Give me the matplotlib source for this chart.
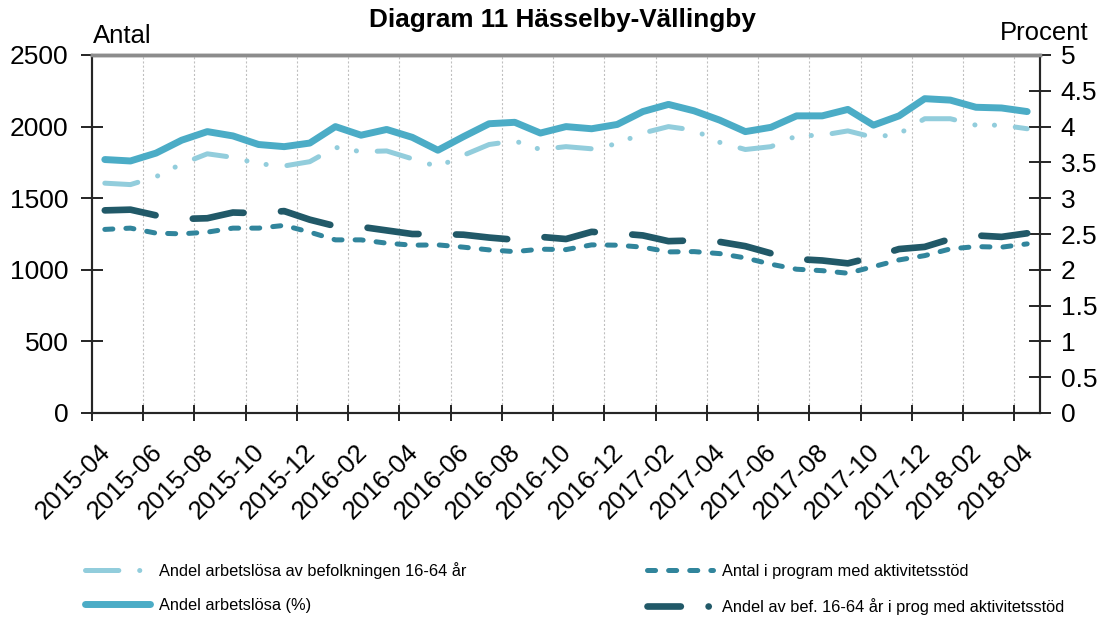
import numpy as np
import pandas as pd
import matplotlib
matplotlib.use("Agg")
import matplotlib.pyplot as plt
from matplotlib.lines import Line2D
from matplotlib.ticker import FixedLocator, NullFormatter, FixedFormatter

plt.rcParams['font.family'] = ['Liberation Sans', 'DejaVu Sans']
plt.rcParams['lines.scale_dashes'] = False

# =============================================================================
# DATA
# =============================================================================
months = list(pd.period_range('2015-04', '2018-04', freq='M').strftime('%Y-%m'))

# Andel arbetslösa av befolkningen 16-64 år (%), right axis
andel_bef = [3.21, 3.19, 3.30, 3.48, 3.62, 3.57, 3.48, 3.45, 3.51, 3.71, 3.65, 3.66,
             3.55, 3.44, 3.60, 3.75, 3.80, 3.68, 3.72, 3.69, 3.76, 3.91, 4.00, 3.95,
             3.78, 3.68, 3.72, 3.87, 3.88, 3.94, 3.85, 3.90, 4.11, 4.11, 4.02, 4.02, 3.97]

# Andel arbetslösa (%), right axis
andel_arb = [3.54, 3.52, 3.63, 3.81, 3.93, 3.87, 3.75, 3.72, 3.77, 4.00, 3.88, 3.96,
             3.85, 3.67, 3.86, 4.04, 4.06, 3.91, 4.00, 3.97, 4.03, 4.21, 4.31, 4.22,
             4.09, 3.93, 3.99, 4.15, 4.15, 4.24, 4.02, 4.15, 4.39, 4.37, 4.27, 4.26, 4.21]

# Antal i program med aktivitetsstöd, left axis
antal_prog = [1282, 1291, 1256, 1251, 1263, 1291, 1291, 1310, 1263, 1209, 1209, 1186,
              1172, 1174, 1158, 1139, 1127, 1144, 1141, 1174, 1172, 1158, 1125, 1127,
              1113, 1083, 1039, 1004, 994, 976, 1022, 1069, 1099, 1146, 1162, 1158, 1181]

# Andel av bef. 16-64 år i prog med aktivitetsstöd (%), right axis
andel_prog = [2.83, 2.84, 2.76, 2.71, 2.72, 2.80, 2.79, 2.82, 2.70, 2.61, 2.60, 2.55,
              2.50, 2.50, 2.49, 2.45, 2.42, 2.46, 2.43, 2.53, 2.51, 2.48, 2.40, 2.41,
              2.39, 2.33, 2.23, 2.15, 2.13, 2.09, 2.18, 2.29, 2.32, 2.43, 2.48, 2.46, 2.51]

left_ticks = [0, 500, 1000, 1500, 2000, 2500]
right_ticks = [0, 0.5, 1, 1.5, 2, 2.5, 3, 3.5, 4, 4.5, 5]
right_labels = ['0', '0.5', '1', '1.5', '2', '2.5', '3', '3.5', '4', '4.5', '5']

labels = ['Andel arbetslösa av befolkningen 16-64 år', 'Andel arbetslösa (%)',
          'Antal i program med aktivitetsstöd',
          'Andel av bef. 16-64 år i prog med aktivitetsstöd']

# =============================================================================
# PLOT
# =============================================================================
c_light = '#92CDDC'
c_mid = '#4BACC6'
c_teal = '#31859C'
c_dark = '#215968'

fig = plt.figure(figsize=(11.06, 6.18), dpi=100)
ax = fig.add_axes([92 / 1106, 1 - 413 / 618, (1040 - 92) / 1106, (413 - 55) / 618])
ax2 = ax.twinx()

x = np.arange(len(months))

l3, = ax.plot(x, antal_prog, color=c_teal, lw=3.6, dashes=(5.8, 9.4),
              dash_capstyle='round', solid_joinstyle='round', zorder=3)
l1, = ax2.plot(x, andel_bef, color=c_light, lw=3.6, dashes=(24, 15, 0.1, 14, 0.1, 15),
               dash_capstyle='round', dash_joinstyle='round')
l2, = ax2.plot(x, andel_arb, color=c_mid, lw=5, solid_capstyle='round',
               solid_joinstyle='round')
l4, = ax2.plot(x, andel_prog, color=c_dark, lw=4.8, dashes=(37, 27),
               dash_capstyle='round', dash_joinstyle='round')

ax.set_xlim(-0.5, len(months) - 0.5)
ax.set_ylim(0, 2500)
ax2.set_ylim(0, 5)

# category boundaries every two months carry the ticks and dotted grid
bounds = np.arange(-0.5, len(months) - 0.5, 2)
ax.xaxis.set_major_locator(FixedLocator(bounds))
ax.xaxis.set_major_formatter(NullFormatter())
# labels sit a touch left of the category centre, as in the reference
ax.xaxis.set_minor_locator(FixedLocator(x[::2] - 0.25))
ax.xaxis.set_minor_formatter(FixedFormatter(months[::2]))
ax.tick_params(axis='x', which='major', direction='inout', length=12, width=1.2)
ax.tick_params(axis='x', which='minor', length=0, pad=19, labelsize=18.5)
for lab in ax.xaxis.get_minorticklabels():
    lab.set_rotation(45)
    lab.set_ha('right')
    lab.set_rotation_mode('anchor')
for b in bounds[1:]:
    ax.axvline(b, color='#BFBFBF', lw=0.8, ls=(0, (1.5, 1.5)), zorder=0)

ax.set_yticks(left_ticks)
ax.tick_params(axis='y', direction='inout', length=16, width=1.2, labelsize=19, pad=9)
ax2.set_yticks(right_ticks)
ax2.set_yticklabels(right_labels)
ax2.tick_params(axis='y', direction='inout', length=16, width=1.2, labelsize=19, pad=7)

for a in (ax, ax2):
    a.spines['top'].set_color('#8C8C8C')
    a.spines['top'].set_linewidth(2.5)
    for s in ('left', 'right', 'bottom'):
        a.spines[s].set_color('#262626')
        a.spines[s].set_linewidth(1.5)

fig.text(93 / 1106, 1 - 36 / 618, 'Antal', fontsize=18.5, ha='left', va='center')
fig.text(1088 / 1106, 1 - 33 / 618, 'Procent', fontsize=18.5, ha='right', va='center')
fig.text(562 / 1106, 1 - 20 / 618, 'Diagram 11 Hässelby-Vällingby', fontsize=18.8,
         fontweight='bold', ha='center', va='center')

# legend handles: the dark one shows a dash and a dot, as in the reference
h4 = Line2D([], [], color=c_dark, lw=4.8, dashes=(24, 20, 0.1, 60),
            dash_capstyle='round')
fig.legend([l1, l2, l3, h4], labels, ncol=2, loc='upper left',
           bbox_to_anchor=(70 / 1106, 1 - 547 / 618), frameon=False, fontsize=11.8,
           handlelength=4.0, handletextpad=0.55, columnspacing=11.0, labelspacing=1.15)

fig.savefig('out.png', dpi=100)
